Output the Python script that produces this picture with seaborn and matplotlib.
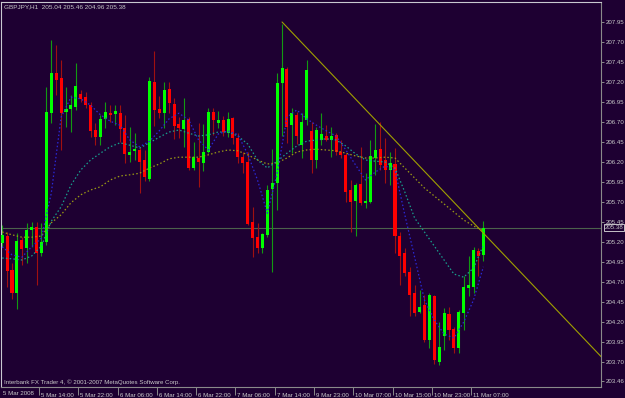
import matplotlib
matplotlib.use("Agg")
import matplotlib.pyplot as plt
import matplotlib.transforms as mtransforms
import seaborn as sns
import pandas as pd

# ---------------- data (GBPJPY H1) ----------------
bars = list(range(99))
open_ = [205.19, 205.275, 204.85, 204.56, 205.225, 205.125, 205.35, 205.39, 205.06, 205.20,
         206.81, 207.31, 207.25, 206.83, 206.86, 206.89, 207.05, 207.01, 206.91, 206.60,
         206.51, 206.74, 206.81, 206.80, 206.81, 206.625, 206.29, 206.34, 206.35, 206.225,
         205.99, 207.20, 206.86, 206.81, 207.11, 206.925, 206.675, 206.61, 206.74, 206.125,
         206.245, 206.19, 206.32, 206.82, 206.69, 206.725, 206.56, 206.75, 206.50, 206.26,
         206.20, 205.45, 205.265, 205.125, 205.29, 205.86, 205.94, 207.19, 207.36, 206.66,
         206.79, 206.41, 206.725, 206.59, 206.225, 206.47, 206.525, 206.475, 206.54, 206.33,
         206.29, 205.85, 205.71, 205.92, 205.69, 205.70, 206.245, 206.36, 206.225, 206.10,
         206.18, 205.27, 205.06, 204.83, 204.56, 204.33, 204.41, 203.98, 204.52, 203.70,
         204.02, 204.30, 204.11, 203.87, 204.31, 204.63, 204.64, 205.09, 205.04]
high = [205.41, 205.325, 204.94, 205.31, 205.26, 205.44, 205.45, 205.45, 205.44, 207.14,
        207.725, 207.66, 207.475, 207.14, 207.04, 207.44, 207.10, 207.08, 206.95, 206.69,
        206.79, 206.95, 206.91, 206.91, 206.91, 206.79, 206.64, 206.56, 206.39, 206.35,
        207.26, 207.59, 207.025, 207.20, 207.20, 207.00, 206.76, 207.00, 206.76, 206.45,
        206.69, 206.675, 206.875, 206.88, 206.84, 206.77, 206.825, 206.76, 206.56, 206.325,
        206.325, 205.64, 205.44, 205.31, 205.91, 206.36, 207.31, 207.93, 207.39, 206.87,
        206.83, 206.81, 207.475, 206.70, 206.64, 206.81, 206.66, 206.64, 206.56, 206.475,
        206.31, 205.975, 205.94, 206.39, 206.06, 206.48, 206.68, 206.70, 206.50, 206.33,
        206.37, 205.33, 205.12, 204.89, 204.66, 204.60, 204.54, 204.56, 204.54, 204.20,
        204.37, 204.39, 204.14, 204.35, 204.77, 205.025, 205.14, 205.12, 205.46]
low = [205.14, 204.64, 204.49, 204.36, 204.91, 204.94, 205.14, 204.66, 205.02, 205.16,
       206.69, 207.04, 206.35, 206.64, 206.575, 206.85, 206.95, 206.875, 206.51, 206.41,
       206.41, 206.625, 206.70, 206.66, 206.45, 206.19, 206.20, 206.225, 205.81, 205.96,
       205.96, 206.65, 206.75, 206.625, 206.81, 206.49, 206.50, 206.39, 206.10, 206.10,
       205.89, 206.09, 206.31, 206.54, 206.62, 206.52, 206.51, 206.43, 206.185, 206.06,
       205.41, 205.01, 205.06, 205.06, 205.26, 204.825, 205.60, 206.53, 206.44, 206.31,
       206.43, 206.245, 206.66, 206.06, 206.125, 206.41, 206.46, 206.26, 206.29, 206.25,
       205.70, 205.33, 205.27, 205.66, 205.62, 205.685, 206.04, 206.10, 205.94, 205.91,
       205.06, 204.66, 204.77, 204.27, 204.27, 204.31, 203.95, 203.87, 203.68, 203.66,
       203.85, 203.975, 203.81, 203.81, 204.10, 204.52, 204.56, 204.77, 204.96]
close = [205.29, 204.84, 204.56, 205.21, 205.11, 205.35, 205.39, 205.06, 205.20, 206.83,
         207.31, 207.23, 206.81, 206.86, 206.91, 207.15, 206.99, 206.91, 206.59, 206.51,
         206.74, 206.825, 206.79, 206.84, 206.61, 206.30, 206.325, 206.36, 206.20, 206.01,
         207.21, 206.85, 206.81, 207.10, 206.94, 206.65, 206.625, 206.725, 206.125, 206.26,
         206.20, 206.32, 206.83, 206.72, 206.725, 206.58, 206.74, 206.50, 206.26, 206.19,
         205.43, 205.25, 205.125, 205.30, 205.85, 205.94, 207.19, 207.37, 206.64, 206.81,
         206.52, 206.70, 207.35, 206.225, 206.60, 206.55, 206.48, 206.525, 206.33, 206.29,
         205.83, 205.70, 205.91, 205.685, 205.715, 206.27, 206.35, 206.16, 206.10, 206.19,
         205.27, 205.025, 204.815, 204.54, 204.31, 204.385, 203.97, 204.54, 203.725, 203.89,
         204.31, 204.10, 203.88, 204.33, 204.64, 204.66, 205.10, 205.02, 205.38]

# moving averages at every second bar
ma_bars = list(range(0, 99, 2))
ma_fast = [205.14, 205.04, 205.01, 205.14, 205.25, 205.81, 206.76, 207.01, 206.99, 206.91,
           206.79, 206.71, 206.66, 206.475, 206.39, 206.46, 206.59, 206.74, 206.81, 206.725,
           206.475, 206.35, 206.55, 206.59, 206.54, 206.30, 205.975, 205.56, 206.06, 206.76,
           206.85, 206.74, 206.66, 206.59, 206.525, 206.35, 206.16, 205.975, 206.075, 206.15,
           206.10, 205.54, 205.01, 204.475, 204.225, 204.05, 204.00, 204.20, 204.475, 204.89]
ma_mid = [205.00, 204.99, 204.975, 205.025, 205.15, 205.46, 205.64, 205.91, 206.10, 206.225,
          206.31, 206.39, 206.44, 206.41, 206.375, 206.44, 206.51, 206.575, 206.60, 206.56,
          206.525, 206.54, 206.575, 206.575, 206.525, 206.425, 206.225, 206.125, 206.21, 206.31,
          206.40, 206.46, 206.475, 206.49, 206.475, 206.40, 206.30, 206.225, 206.21, 206.20,
          206.125, 205.825, 205.50, 205.325, 205.15, 204.975, 204.80, 204.76, 204.875, 205.16]
ma_slow = [205.325, 205.29, 205.26, 205.26, 205.275, 205.44, 205.54, 205.69, 205.79, 205.85,
           205.89, 205.975, 206.025, 206.04, 206.06, 206.125, 206.175, 206.24, 206.26, 206.26,
           206.26, 206.29, 206.325, 206.35, 206.34, 206.29, 206.225, 206.175, 206.19, 206.25,
           206.325, 206.35, 206.36, 206.35, 206.34, 206.31, 206.275, 206.25, 206.25, 206.26,
           206.25, 206.125, 206.00, 205.875, 205.775, 205.675, 205.575, 205.475, 205.40, 205.34]

trend_bars = [57, 122]
trend_prices = [207.95, 203.766]
bid_price = 205.38

x_tick_bars = [8, 16, 24, 32, 40, 48, 56, 64, 72, 80, 88, 96]
x_tick_labels = ["5 Mar 14:00", "5 Mar 22:00", "6 Mar 06:00", "6 Mar 14:00", "6 Mar 22:00",
                 "7 Mar 06:00", "7 Mar 14:00", "9 Mar 23:00", "10 Mar 07:00", "10 Mar 15:00",
                 "10 Mar 23:00", "11 Mar 07:00"]
first_label = "5 Mar 2008"
y_tick_values = [207.95, 207.70, 207.45, 207.20, 206.95, 206.70, 206.45, 206.20, 205.95,
                 205.70, 205.45, 205.20, 204.95, 204.70, 204.45, 204.20, 203.95, 203.70, 203.46]
title_text = "GBPJPY,H1  205.04 205.46 204.96 205.38"
footer_text = "Interbank FX Trader 4, \u00a9 2001-2007 MetaQuotes Software Corp."

# ---------------- style ----------------
BG = '#1e0032'
TXT = '#c8c8c8'
sns.set_style("dark", {"axes.facecolor": BG, "figure.facecolor": BG})
plt.rcParams['font.family'] = ['Liberation Sans', 'DejaVu Sans']

W, H = 625, 398
fig = plt.figure(figsize=(W / 100, H / 100), dpi=100, facecolor=BG)
ax = fig.add_axes([1.5 / W, 11 / H, 599.5 / W, 385.5 / H])
ax.set_facecolor(BG)

# candles
up = [c >= o for o, c in zip(open_, close)]
wick_cols = ['#129a12' if u else '#a01010' for u in up]
body_cols = ['#00ff00' if u else '#ff0000' for u in up]
bottoms = [min(o, c) for o, c in zip(open_, close)]
heights = [max(abs(c - o), 0.012) for o, c in zip(open_, close)]
ax.vlines(bars, low, high, colors=wick_cols, linewidth=0.8, zorder=2)
ax.bar(bars, heights, bottom=bottoms, width=0.62, color=body_cols, linewidth=0, zorder=3)

# bid line and trend line
ax.axhline(bid_price, color='#4c624c', lw=0.8, zorder=1)
ax.plot(trend_bars, trend_prices, color='#a0a000', lw=0.8, zorder=6)

# moving averages
ma_df = pd.DataFrame({'bar': ma_bars, 'fast': ma_fast, 'mid': ma_mid, 'slow': ma_slow})
sns.lineplot(data=ma_df, x='bar', y='slow', ax=ax, color='#9a9a14', linewidth=0.9,
             linestyle=(0, (1.2, 1.8)), zorder=4)
sns.lineplot(data=ma_df, x='bar', y='mid', ax=ax, color='#18a08e', linewidth=0.9,
             linestyle=(0, (1.2, 1.8)), zorder=4)
sns.lineplot(data=ma_df, x='bar', y='fast', ax=ax, color='#2a2ad8', linewidth=0.9,
             linestyle=(0, (1.2, 1.8)), zorder=5)

ax.set_xlim(-0.14, 121.96)
ax.set_ylim(203.3875, 208.20625)
ax.set_xlabel('')
ax.set_ylabel('')
ax.grid(False)

# spines
for s in ['top', 'left']:
    ax.spines[s].set_color('#c8c8d0')
    ax.spines[s].set_linewidth(0.8)
for s in ['right', 'bottom']:
    ax.spines[s].set_color('#8a8a8a')
    ax.spines[s].set_linewidth(0.8)
    ax.spines[s].set_visible(True)

# y axis on right
ax.yaxis.tick_right()
ax.set_yticks(y_tick_values)
ax.set_yticklabels([f"{v:.2f}" for v in y_tick_values])
ax.tick_params(axis='y', which='both', colors='#8a8a8a', labelcolor=TXT, length=2.5,
               width=0.7, labelsize=4.4, pad=1.2, direction='out', right=True, left=False)

# x axis
ax.set_xticks([b - 0.5 for b in x_tick_bars])
ax.set_xticklabels(x_tick_labels)
ax.tick_params(axis='x', colors='#8a8a8a', labelcolor=TXT, length=6, width=0.7,
               labelsize=4.4, pad=-2.0, direction='out', bottom=True)
offset = mtransforms.ScaledTranslation(1.5 / 72, 0, fig.dpi_scale_trans)
for lbl in ax.get_xticklabels():
    lbl.set_horizontalalignment('left')
    lbl.set_transform(lbl.get_transform() + offset)
fig.text(3 / W, 1 - 393.5 / H, first_label, color=TXT, fontsize=4.4, ha='left', va='center')

# texts
fig.text(4 / W, 1 - 6.5 / H, title_text, color=TXT, fontsize=4.6, ha='left', va='center')
fig.text(4 / W, 1 - 382.5 / H, footer_text, color=TXT, fontsize=4.4, ha='left', va='center')

# current price label
ax.annotate(f"{bid_price:.2f}", xy=(1.0, bid_price), xycoords=('axes fraction', 'data'),
            xytext=(2.5, 0), textcoords='offset points', ha='left', va='center',
            fontsize=4.4, color=TXT, annotation_clip=False,
            bbox=dict(boxstyle='square,pad=0.15', fc=BG, ec='#e0e0e0', lw=0.6))

fig.savefig('out.png', dpi=100, facecolor=BG)
